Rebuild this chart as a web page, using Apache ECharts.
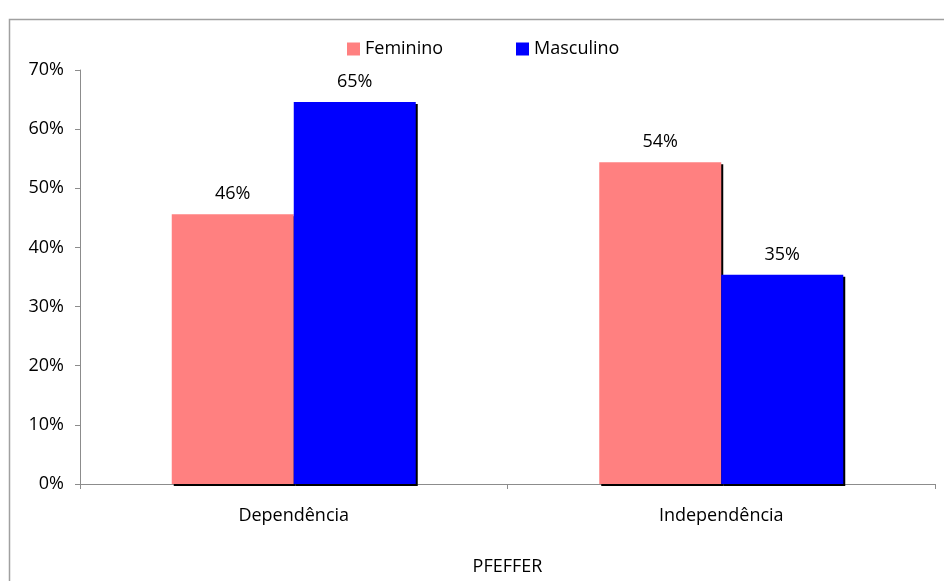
<!DOCTYPE html>
<html>
<head>
<meta charset="utf-8">
<script src="https://cdn.jsdelivr.net/npm/echarts@6/dist/echarts.min.js"></script>
<style>
  html, body { margin: 0; padding: 0; background: #fff; overflow: hidden; }
  #chart { width: 944px; height: 581px; }
</style>
</head>
<body>
<div id="chart"></div>
<script>
// PFEFFER: dependence vs independence by sex (percentages)
const categories = ['Dependência', 'Independência'];
const feminino = [45.6, 54.4];
const masculino = [64.6, 35.4];
const yTicks = [0, 10, 20, 30, 40, 50, 60, 70];

const FONT = 'Open Sans';
const FS = 18;
const chart = echarts.init(document.getElementById('chart'));

const barShadow = {
  shadowColor: '#000',
  shadowBlur: 0,
  shadowOffsetX: 2,
  shadowOffsetY: 2
};

const valueLabel = {
  show: true, position: 'top', distance: 11,
  fontFamily: FONT, fontSize: FS, color: '#000',
  formatter: p => Math.round(p.value) + '%'
};

const legendBase = {
  top: 35,
  itemWidth: 13,
  itemHeight: 13,
  itemGap: 0,
  icon: 'rect',
  textStyle: { fontFamily: FONT, fontSize: FS, color: '#000' }
};

chart.setOption({
  animation: false,
  textStyle: { fontFamily: FONT },
  graphic: [{
    type: 'rect',
    shape: { x: 9.5, y: 19.5, width: 1000, height: 1000 },
    style: { fill: 'none', stroke: '#a0a0a0', lineWidth: 1.5 },
    silent: true
  }],
  legend: [
    Object.assign({ left: 342, data: ['Feminino'] }, legendBase),
    Object.assign({ left: 511, data: ['Masculino'] }, legendBase)
  ],
  grid: { left: 80, width: 855, top: 70, height: 426, containLabel: false },
  xAxis: {
    type: 'category',
    data: categories,
    name: 'PFEFFER',
    nameLocation: 'middle',
    nameGap: 74,
    nameTextStyle: { fontFamily: FONT, fontSize: FS, color: '#000' },
    axisLine: { lineStyle: { color: '#8c8c8c', width: 1 } },
    axisTick: { show: true, length: 5, lineStyle: { color: '#8c8c8c' } },
    axisLabel: { fontFamily: FONT, fontSize: FS, color: '#000', margin: 23 }
  },
  yAxis: {
    type: 'value',
    min: yTicks[0],
    max: yTicks[yTicks.length - 1],
    interval: 10,
    axisLine: { show: true, lineStyle: { color: '#8c8c8c', width: 1 } },
    axisTick: { show: true, length: 5, lineStyle: { color: '#8c8c8c' } },
    splitLine: { show: false },
    axisLabel: {
      fontFamily: FONT, fontSize: FS, color: '#000', margin: 16,
      formatter: v => v + '%'
    }
  },
  series: [
    {
      name: 'Feminino',
      type: 'bar',
      data: feminino,
      barWidth: 122,
      barGap: '0%',
      itemStyle: Object.assign({ color: '#ff8080' }, barShadow),
      label: valueLabel
    },
    {
      name: 'Masculino',
      type: 'bar',
      data: masculino,
      barWidth: 122,
      barGap: '0%',
      itemStyle: Object.assign({ color: '#0000ff' }, barShadow),
      label: valueLabel
    }
  ]
});
</script>
</body>
</html>
